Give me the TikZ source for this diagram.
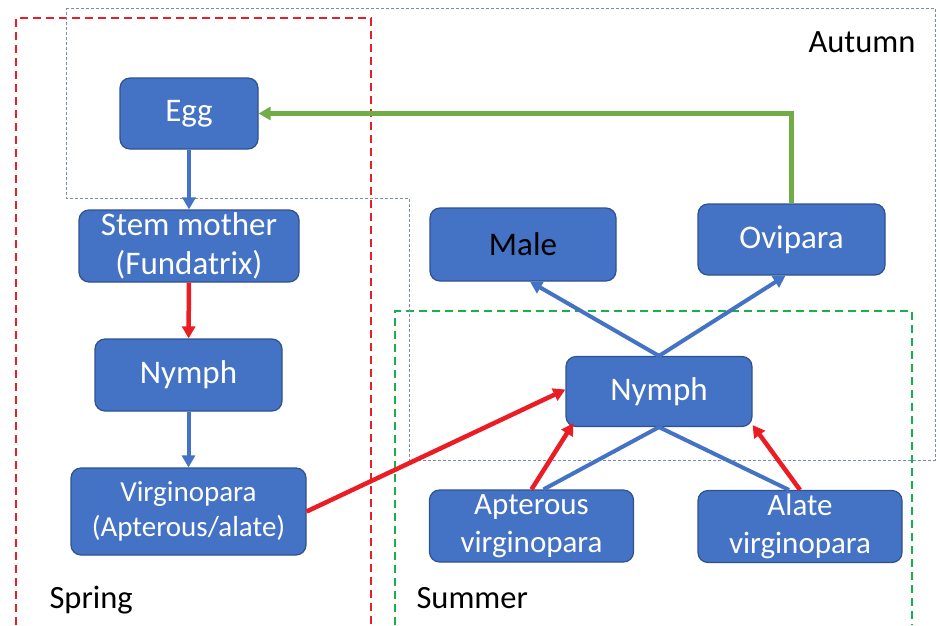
\documentclass[tikz,border=0pt]{standalone}
\usepackage{fontspec}
\setmainfont{Carlito}
\usetikzlibrary{arrows.meta,positioning}
\definecolor{boxblue}{RGB}{68,114,196}
\definecolor{boxedge}{RGB}{47,82,143}
\definecolor{arrred}{RGB}{235,28,36}
\definecolor{arrgreen}{RGB}{112,173,71}
\definecolor{sprred}{RGB}{228,32,40}
\definecolor{sumgreen}{RGB}{24,176,72}
\definecolor{autgray}{RGB}{125,140,180}

\begin{document}
\begin{tikzpicture}[x=1pt, y=-1pt, >={Triangle[length=12pt,width=13pt]}]
		\useasboundingbox (0,0) rectangle (940,625);
		% season frames
		\draw[sprred, line width=1.6pt, dash pattern=on 8pt off 5pt] (16,625) -- (16,18) -- (371,18) -- (371,625);
		\draw[sumgreen, line width=1.4pt, dash pattern=on 8pt off 5pt] (395,625) -- (395,311) -- (912,311) -- (912,625);
		\draw[autgray, line width=0.8pt, dash pattern=on 3pt off 2pt] (66,8) -- (935,8) -- (935,460) -- (409,460) -- (409,198) -- (66,198) -- cycle;
		\node[anchor=east] (aut) at (919,42) {\fontsize{32.5}{38}\selectfont Autumn};
		\node[anchor=west] (spr) at (46,600) {\fontsize{32.5}{38}\selectfont Spring};
		\node[anchor=west] (sum) at (413,598) {\fontsize{32.5}{38}\selectfont Summer};
		\begin{scope}[every node/.style={rectangle, rounded corners=10pt, fill=boxblue, draw=boxedge, line width=1.2pt, text=white, align=center, font=\fontsize{33}{39}\selectfont}]
			\node[minimum width=138pt, minimum height=71pt] (egg) at (189,113.5) {Egg};
			\node[minimum width=220pt, minimum height=72pt, inner sep=0pt] (sm) at (189,246) {Stem mother\\(Fundatrix)};
			\node[minimum width=187pt, minimum height=72pt] (n1) at (188.5,375) {Nymph};
			\node[minimum width=235pt, minimum height=87pt, font=\fontsize{29}{35}\selectfont] (vp) at (188.5,511.5) {Virginopara\\(Apterous/alate)};
			\node[minimum width=186pt, minimum height=73pt, text=black] (m) at (523,244.5) {Male};
			\node[minimum width=187pt, minimum height=71pt] (ov) at (791.5,239.5) {Ovipara};
			\node[minimum width=186pt, minimum height=70pt] (n2) at (659,391.5) {Nymph};
			\node[minimum width=204pt, minimum height=72pt, inner sep=0pt, font=\fontsize{31}{38}\selectfont] (av) at (531.5,526) {Apterous\\virginopara};
			\node[minimum width=204pt, minimum height=72pt, inner sep=0pt, font=\fontsize{31}{38}\selectfont] (alv) at (800,526.5) {Alate\\virginopara};
		\end{scope}
		\path[boxblue, line width=4pt] (egg) edge[->] (sm)
			(n1) edge[->] (vp)
			(n2.north) edge[->] ([xshift=7pt]m.south)
			(n2.north) edge[->] ([xshift=-6pt]ov.south)
			(n2.south) edge ([xshift=12pt]av.north)
			(n2.south) edge ([xshift=-11pt]alv.north);
		\path[arrred, line width=4.5pt] (sm) edge[->] (n1)
			(vp.east) edge[->] ([yshift=2pt]n2.west)
			(av.north) edge[->] ([xshift=8pt, yshift=4pt]n2.south west)
			(alv.north) edge[->] ([yshift=2pt]n2.south east);
		\draw[arrgreen, line width=4.5pt, ->] (ov.north) |- (egg.east);
	\end{tikzpicture}
\end{document}
